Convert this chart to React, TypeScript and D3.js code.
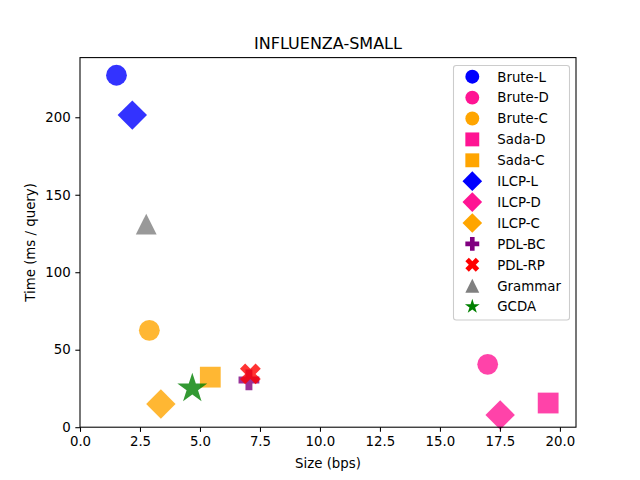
import React, { useRef, useEffect } from 'react'
import * as d3 from 'd3'

const methods = [
  'Brute-L', 'Brute-D', 'Brute-C', 'Sada-D', 'Sada-C', 'ILCP-L',
  'ILCP-D', 'ILCP-C', 'PDL-BC', 'PDL-RP', 'Grammar', 'GCDA',
]
const sizeBps = [1.52, 16.99, 2.89, 19.51, 5.43, 2.18, 17.51, 3.37, 7.04, 7.1, 2.76, 4.68]
const timeMs = [227.1, 40.6, 62.5, 15.6, 32.3, 201.4, 7.9, 15, 30.5, 34.4, 131, 25]
const shapes = ['o', 'o', 'o', 's', 's', 'D', 'D', 'D', 'P', 'X', '^', '*']
const colors = [
  'blue', '#ff1493', 'orange', '#ff1493', 'orange', 'blue',
  '#ff1493', 'orange', 'purple', 'red', 'gray', 'green',
]
const xTicks = [0, 2.5, 5, 7.5, 10, 12.5, 15, 17.5, 20]
const yTicks = [0, 50, 100, 150, 200]

// path for a marker of "size" px, centred at 0,0 (matplotlib-like shapes)
const markerPath = (shape: string, size: number) => {
  const h = size / 2
  const pts = (arr: number[][]) => 'M' + arr.map((p) => p.join(',')).join('L') + 'Z'
  if (shape === 'o') {
    const p = d3.path()
    p.arc(0, 0, h, 0, Math.PI * 2)
    return p.toString()
  }
  if (shape === 's') return pts([[-h, -h], [h, -h], [h, h], [-h, h]])
  if (shape === 'D') {
    const d = size * 0.707
    return pts([[0, -d], [d, 0], [0, d], [-d, 0]])
  }
  if (shape === '^') return pts([[0, -h], [h, h], [-h, h]])
  if (shape === 'P') {
    const v = [[-1, -3], [1, -3], [1, -1], [3, -1], [3, 1], [1, 1], [1, 3], [-1, 3], [-1, 1], [-3, 1], [-3, -1], [-1, -1]]
    return pts(v.map(([a, b]) => [(a / 6) * size, (b / 6) * size]))
  }
  if (shape === 'X') {
    const v = [[-1, -2], [0, -1], [1, -2], [2, -1], [1, 0], [2, 1], [1, 2], [0, 1], [-1, 2], [-2, 1], [-1, 0], [-2, -1]]
    return pts(v.map(([a, b]) => [(a / 4) * size, (b / 4) * size]))
  }
  // star
  const v: number[][] = []
  for (let i = 0; i < 10; i++) {
    const r = i % 2 === 0 ? h : h * 0.381966
    const ang = (i * Math.PI) / 5
    v.push([r * Math.sin(ang), -r * Math.cos(ang)])
  }
  return pts(v)
}

const renderScatter = (svg: SVGSVGElement) => {
  const width = 640
  const height = 480
  const margin = { left: 80, right: 64, top: 57.6, bottom: 52.8 }
  const font = 'DejaVu Sans, sans-serif'

  const svgD3 = d3.select(svg)
  svgD3.selectAll('*').remove()
  svgD3.append('rect').attr('width', width).attr('height', height).attr('fill', 'white')

  const xScale = d3.scaleLinear().domain([0, 20.67]).range([margin.left, width - margin.right])
  const yScale = d3.scaleLinear().domain([0, 238.5]).range([height - margin.bottom, margin.top])

  const g = svgD3.append('g')
  methods.forEach((m, i) => {
    const size = shapes[i] === '*' ? 31.5 : 20.8
    g.append('path')
      .attr('d', markerPath(shapes[i], size))
      .attr('transform', `translate(${xScale(sizeBps[i])},${yScale(timeMs[i])})`)
      .attr('fill', colors[i])
      .attr('fill-opacity', 0.8)
  })

  const xAxis = d3.axisBottom(xScale).tickValues(xTicks).tickFormat(d3.format('.1f')).tickSizeOuter(0).tickSize(4.67).tickPadding(4.67)
  const yAxis = d3.axisLeft(yScale).tickValues(yTicks).tickFormat(d3.format('d')).tickSizeOuter(0).tickSize(4.67).tickPadding(4.67)

  const gx = svgD3.append('g').attr('transform', `translate(0, ${height - margin.bottom})`).call(xAxis)
  const gy = svgD3.append('g').attr('transform', `translate(${margin.left}, 0)`).call(yAxis)
  ;[gx, gy].forEach((ax) => {
    ax.select('.domain').remove()
    ax.selectAll('line').attr('stroke', 'black').attr('stroke-width', 1.07)
    ax.selectAll('text').attr('font-family', font).attr('font-size', 13.33).attr('fill', 'black')
  })

  svgD3.append('rect')
    .attr('x', margin.left)
    .attr('y', margin.top)
    .attr('width', width - margin.left - margin.right)
    .attr('height', height - margin.top - margin.bottom)
    .attr('fill', 'none')
    .attr('stroke', 'black')
    .attr('stroke-width', 1.07)

  const cx = (margin.left + width - margin.right) / 2
  svgD3.append('text').attr('x', cx).attr('y', 49).attr('text-anchor', 'middle')
    .attr('font-family', font).attr('font-size', 16).text('INFLUENZA-SMALL')
  svgD3.append('text').attr('x', cx).attr('y', 468).attr('text-anchor', 'middle')
    .attr('font-family', font).attr('font-size', 13.33).text('Size (bps)')
  svgD3.append('text')
    .attr('transform', `translate(35, ${(margin.top + height - margin.bottom) / 2}) rotate(-90)`)
    .attr('text-anchor', 'middle')
    .attr('font-family', font).attr('font-size', 13.33).text('Time (ms / query)')

  // legend
  const lg = svgD3.append('g')
  lg.append('rect')
    .attr('x', 453.5).attr('y', 65.5).attr('width', 116).attr('height', 254.5)
    .attr('rx', 2.7).attr('fill', 'white').attr('fill-opacity', 0.8)
    .attr('stroke', '#cccccc').attr('stroke-width', 1.07)
  methods.forEach((m, i) => {
    const y = 76.7 + i * 20.9
    const size = shapes[i] === '*' ? 15.5 : 13.9
    lg.append('path')
      .attr('d', markerPath(shapes[i], size))
      .attr('transform', `translate(472.3,${y})`)
      .attr('fill', colors[i])
    lg.append('text').attr('x', 497.3).attr('y', y + 4.8)
      .attr('font-family', font).attr('font-size', 13.33).text(m)
  })
}

export default function App() {
  const ref = useRef<SVGSVGElement>(null)
  useEffect(() => {
    document.body.style.margin = '0'
    if (ref.current) renderScatter(ref.current)
  }, [])
  return <svg ref={ref} width={640} height={480} style={{ display: 'block' }} />
}
